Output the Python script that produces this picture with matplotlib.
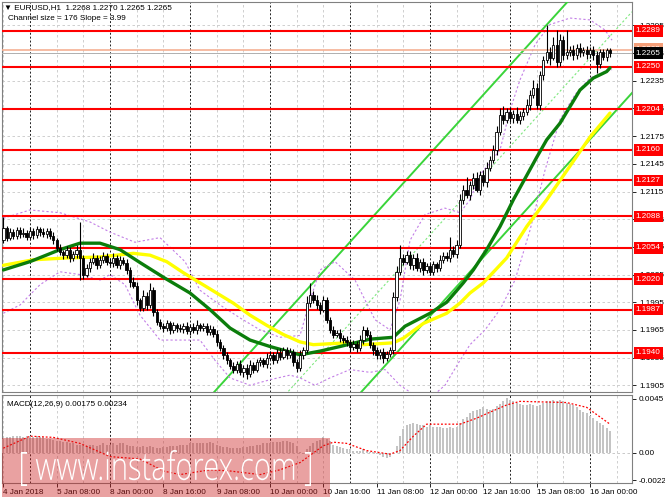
import matplotlib
matplotlib.use("Agg")
import matplotlib.pyplot as plt
from matplotlib.patches import Rectangle, PathPatch
from matplotlib.transforms import blended_transform_factory, Affine2D, IdentityTransform
from matplotlib.textpath import TextPath
from matplotlib.font_manager import FontProperties

plt.rcParams['font.family'] = ['Liberation Sans', 'DejaVu Sans']

# ---------------- data ----------------
open_first = 1.2062
closes = [
    1.2075, 1.2065, 1.2071, 1.2067, 1.2073, 1.2069, 1.2070, 1.2066, 1.2072, 1.2068,
    1.2074, 1.2071, 1.2069, 1.2072, 1.2067, 1.2062, 1.2054, 1.2049, 1.2046, 1.2052,
    1.2043, 1.2047, 1.2052, 1.2043, 1.2025, 1.2032, 1.2039, 1.2043, 1.2035, 1.2041,
    1.2045, 1.2039, 1.2037, 1.2043, 1.2035, 1.2041, 1.2038, 1.2030, 1.2017, 1.2013,
    1.1997, 1.1989, 1.2002, 1.1992, 1.2008, 1.1984, 1.1974, 1.1969, 1.1967, 1.1972,
    1.1965, 1.1970, 1.1967, 1.1966, 1.1969, 1.1964, 1.1968, 1.1965, 1.1970, 1.1967,
    1.1969, 1.1963, 1.1966, 1.1961, 1.1952, 1.1945, 1.1938, 1.1932, 1.1926, 1.1922,
    1.1928, 1.1919, 1.1924, 1.1917, 1.1927, 1.1922, 1.1930, 1.1932, 1.1928, 1.1935,
    1.1938, 1.1932, 1.1940, 1.1936, 1.1943, 1.1938, 1.1941, 1.1930, 1.1924, 1.1938,
    1.1943, 1.1994, 1.2003, 1.1997, 1.1992, 1.1987, 1.1997, 1.1976, 1.1965, 1.1960,
    1.1962, 1.1956, 1.1954, 1.1952, 1.1946, 1.1950, 1.1945, 1.1954, 1.1965, 1.1960,
    1.1949, 1.1943, 1.1938, 1.1941, 1.1935, 1.1939, 1.1943, 1.2001, 1.2028, 1.2043,
    1.2039, 1.2046, 1.2035, 1.2043, 1.2032, 1.2039, 1.2030, 1.2034, 1.2028, 1.2036,
    1.2032, 1.2041, 1.2045, 1.2043, 1.2052, 1.2047, 1.2057, 1.2106, 1.2117, 1.2111,
    1.2122, 1.2130, 1.2117, 1.2133, 1.2125, 1.2141, 1.2149, 1.2160, 1.2180, 1.2198,
    1.2193, 1.2201, 1.2195, 1.2199, 1.2193, 1.2197, 1.2201, 1.2209, 1.2220, 1.2227,
    1.2209, 1.2241, 1.2258, 1.2266, 1.2260, 1.2274, 1.2255, 1.2279, 1.2263, 1.2266,
    1.2268, 1.2263, 1.2271, 1.2266, 1.2268, 1.2264, 1.2268, 1.2263, 1.2253, 1.2266,
    1.2261, 1.2268, 1.2265]
up_wick_pips = [
    12, 3, 4, 3, 4, 3, 5, 3, 4, 3,
    4, 3, 4, 3, 3, 4, 3, 4, 3, 4,
    3, 4, 5, 30, 3, 4, 4, 5, 3, 4,
    4, 3, 4, 5, 3, 4, 3, 4, 3, 5,
    4, 3, 6, 4, 8, 3, 4, 3, 4, 4,
    3, 4, 3, 4, 3, 5, 3, 4, 6, 3,
    4, 3, 4, 3, 4, 3, 4, 3, 3, 4,
    3, 4, 3, 4, 5, 3, 4, 4, 3, 5,
    4, 3, 4, 5, 4, 3, 4, 3, 4, 5,
    3, 8, 13, 4, 6, 3, 5, 4, 3, 4,
    3, 4, 3, 4, 3, 4, 3, 5, 4, 3,
    4, 3, 4, 3, 4, 3, 4, 5, 6, 14,
    4, 5, 4, 4, 5, 3, 4, 3, 4, 4,
    3, 5, 4, 4, 14, 4, 5, 6, 5, 14,
    4, 5, 6, 4, 5, 6, 4, 5, 6, 8,
    10, 5, 6, 4, 8, 5, 4, 6, 5, 9,
    6, 5, 4, 30, 6, 8, 16, 7, 5, 24,
    5, 6, 4, 5, 4, 5, 4, 5, 4, 3,
    4, 3, 3]
dn_wick_pips = [
    3, 4, 3, 4, 3, 4, 3, 4, 3, 4,
    3, 4, 3, 4, 3, 4, 4, 3, 4, 3,
    4, 3, 4, 24, 5, 3, 4, 3, 4, 3,
    3, 4, 3, 4, 3, 4, 3, 4, 5, 3,
    5, 4, 3, 5, 3, 4, 4, 3, 4, 3,
    4, 3, 4, 3, 4, 3, 4, 3, 4, 3,
    3, 4, 3, 4, 4, 3, 5, 4, 3, 4,
    4, 3, 5, 5, 3, 4, 3, 4, 3, 4,
    3, 4, 3, 4, 3, 4, 3, 4, 5, 4,
    4, 3, 4, 3, 4, 5, 3, 4, 3, 4,
    3, 4, 3, 4, 5, 3, 4, 3, 4, 3,
    4, 5, 4, 5, 6, 4, 3, 4, 5, 4,
    4, 3, 4, 5, 3, 4, 5, 3, 4, 3,
    4, 3, 4, 3, 4, 3, 4, 3, 4, 3,
    5, 4, 3, 6, 4, 5, 4, 3, 5, 4,
    5, 4, 5, 6, 4, 5, 4, 3, 6, 4,
    5, 6, 5, 4, 8, 3, 5, 4, 6, 4,
    4, 5, 4, 5, 4, 5, 4, 6, 10, 4,
    4, 5, 4]

ma_green_bars = [0, 8, 17, 23, 29, 35, 41, 48.5, 56, 62, 68, 74, 80, 86, 89, 95, 101, 110,
                 117, 120.5, 128, 133, 138, 141, 145, 149, 153, 160, 163, 167, 170, 173, 177, 181, 182]
ma_green_vals = [1.2030, 1.2039, 1.2052, 1.2059, 1.2059, 1.2052, 1.2038, 1.2021, 1.2005, 1.1987,
                 1.1967, 1.1954, 1.1947, 1.1941, 1.1938, 1.1942, 1.1947, 1.1955, 1.1957, 1.1969,
                 1.1983, 1.1995, 1.2016, 1.2030, 1.2052, 1.2077, 1.2106, 1.2152, 1.2171, 1.2189,
                 1.2207, 1.2225, 1.2238, 1.2245, 1.2249]
ma_yellow_bars = [0, 9, 19, 29, 34, 39, 44, 49, 54, 59, 64, 69, 74, 79, 84, 89, 93, 103, 108,
                  117, 120, 126, 133, 137, 140, 144, 151, 157, 163, 176, 182]
ma_yellow_vals = [1.2035, 1.2041, 1.2043, 1.2044, 1.2046, 1.2048, 1.2046, 1.2039, 1.2027, 1.2016,
                  1.2005, 1.1994, 1.1981, 1.1970, 1.1960, 1.1952, 1.1949, 1.1951, 1.1949, 1.1951,
                  1.1956, 1.1972, 1.1983, 1.1994, 1.2005, 1.2016, 1.2043, 1.2077, 1.2106, 1.2174,
                  1.2200]
bb_upper_bars = [0, 8, 17, 26, 32, 39.5, 47, 54.5, 59, 65, 71, 77, 83, 89, 92, 95, 99.5, 105.5,
                 111.5, 116, 119, 122, 126.5, 132.5, 137, 140, 143, 149, 152, 155, 159.5, 164,
                 170, 176, 180.5, 182.6]
bb_upper_vals = [1.2086, 1.2095, 1.2092, 1.2082, 1.2071, 1.2060, 1.2065, 1.2039, 1.2008, 1.1992,
                 1.1978, 1.1965, 1.1957, 1.1959, 1.1997, 1.2030, 1.2039, 1.2019, 1.1976, 1.1965,
                 1.1997, 1.2062, 1.2090, 1.2097, 1.2092, 1.2106, 1.2133, 1.2160, 1.2203, 1.2236,
                 1.2274, 1.2296, 1.2303, 1.2301, 1.2290, 1.2279]
bb_lower_bars = [0, 5, 11, 17, 23, 29, 32, 36.5, 41, 47, 53, 59, 63.5, 68, 74, 80, 86, 89,
                 93.5, 98, 104, 110, 114.5, 119, 123.5, 128, 132.5, 137, 140, 144.5, 149, 153.5,
                 158, 162.5, 167, 171.5, 176, 180.5, 182.6]
bb_lower_vals = [1.1983, 1.1992, 1.2014, 1.2028, 1.2025, 1.2019, 1.2025, 1.2014, 1.1981, 1.1954,
                 1.1954, 1.1954, 1.1932, 1.1913, 1.1905, 1.1911, 1.1916, 1.1913, 1.1905, 1.1913,
                 1.1922, 1.1919, 1.1922, 1.1905, 1.1894, 1.1891, 1.1905, 1.1932, 1.1949, 1.1965,
                 1.1987, 1.2019, 1.2073, 1.2138, 1.2193, 1.2220, 1.2238, 1.2245, 1.2247]

channel_anchor_bar = 169.1
channel_anchor_price = 1.2320
channel_slope = 0.000399      # price per bar
channel_width = 0.0176

levels = [1.2289, 1.2250, 1.2204, 1.2160, 1.2127, 1.2088, 1.2054, 1.2020, 1.1987, 1.1940]
price_ticks = [1.1905, 1.1935, 1.1965, 1.1995, 1.2025, 1.2055, 1.2085, 1.2115,
               1.2145, 1.2175, 1.2205, 1.2235, 1.2265, 1.2295]
bid_price = 1.2265
ask_price = 1.2268

macd_hist = [
    0.0012, 0.0013, 0.0013, 0.0014, 0.0014, 0.0014, 0.0013, 0.0014, 0.0014, 0.0013,
    0.0014, 0.0013, 0.0013, 0.0012, 0.0012, 0.0011, 0.0010, 0.0010, 0.0009, 0.0009,
    0.0008, 0.0008, 0.0007, 0.0007, 0.0007, 0.0006, 0.0007, 0.0007, 0.0006, 0.0007,
    0.0008, 0.0007, 0.0007, 0.0008, 0.0007, 0.0008, 0.0008, 0.0007, 0.0006, 0.0006,
    0.0005, 0.0005, 0.0006, 0.0005, 0.0006, 0.0005, 0.0004, 0.0004, 0.0005, 0.0005,
    0.0006, 0.0006, 0.0006, 0.0007, 0.0007, 0.0007, 0.0008, 0.0008, 0.0008, 0.0008,
    0.0008, 0.0008, 0.0009, 0.0008, 0.0007, 0.0006, 0.0005, 0.0005, 0.0004, 0.0004,
    0.0004, 0.0004, 0.0005, 0.0005, 0.0006, 0.0006, 0.0007, 0.0007, 0.0008, 0.0008,
    0.0008, 0.0009, 0.0009, 0.0009, 0.0010, 0.0010, 0.0009, 0.0008, 0.0006, 0.0001,
    -0.0001, 0.0003, 0.0006, 0.0008, 0.0010, 0.0011, 0.0013, 0.0012, 0.0010, 0.0007,
    0.0006, 0.0005, 0.0004, 0.0003, 0.0003, 0.0002, 0.0002, 0.0002, 0.0003, 0.0002,
    0.0001, 0.0001, -0.0001, -0.0002, -0.0003, -0.0004, -0.0003, 0.0000, 0.0006, 0.0014,
    0.0020, 0.0023, 0.0024, 0.0025, 0.0024, 0.0023, 0.0023, 0.0022, 0.0023, 0.0022,
    0.0022, 0.0022, 0.0021, 0.0021, 0.0022, 0.0021, 0.0022, 0.0025, 0.0028, 0.0030,
    0.0033, 0.0035, 0.0036, 0.0037, 0.0038, 0.0037, 0.0036, 0.0037, 0.0039, 0.0041,
    0.0043, 0.0046, 0.0044, 0.0043, 0.0042, 0.0041, 0.0040, 0.0040, 0.0041, 0.0040,
    0.0039, 0.0040, 0.0042, 0.0043, 0.0043, 0.0044, 0.0043, 0.0044, 0.0043, 0.0042,
    0.0041, 0.0040, 0.0038, 0.0036, 0.0034, 0.0033, 0.0031, 0.0029, 0.0027, 0.0025,
    0.0023, 0.0021, 0.0018]
signal_bars = [0, 8, 15, 23, 32, 41, 48, 53, 62, 68, 77, 83, 89, 96, 99, 103, 109, 116,
               119, 123, 127, 137, 142, 146, 151, 155, 169, 175, 182]
signal_vals = [0.0004, 0.0014, 0.0013, 0.0008, -0.0003, -0.0005, -0.0015, -0.0018, -0.0014,
               -0.0015, -0.0018, -0.0014, -0.0008, 0.0006, 0.0009, 0.0008, 0.0002, -0.0001,
               0.0002, 0.0014, 0.0024, 0.0024, 0.0029, 0.0034, 0.0040, 0.0043, 0.0042, 0.0038,
               0.0024]

time_label_bars = [0, 16, 32, 48, 64, 80, 96, 112, 128, 144, 160, 176]
time_labels = ["4 Jan 2018", "5 Jan 08:00", "8 Jan 00:00", "8 Jan 16:00", "9 Jan 08:00",
               "10 Jan 00:00", "10 Jan 16:00", "11 Jan 08:00", "12 Jan 00:00", "12 Jan 16:00",
               "15 Jan 08:00", "16 Jan 00:00"]
separator_bars = [8, 32, 56, 80, 104, 128, 152, 176]
grid_bars = [0, 16, 24, 40, 48, 64, 72, 88, 96, 112, 120, 136, 144, 160, 168, 184]

# ---------------- figure ----------------
W, H = 665, 499
fig = plt.figure(figsize=(W / 100, H / 100), dpi=100)
fig.patch.set_facecolor('white')
ax = fig.add_axes([2 / W, 1 - 392 / H, 630 / W, 390 / H])
axm = fig.add_axes([2 / W, 1 - 483 / H, 630 / W, 88 / H])

XMIN, XMAX = -0.4, 188.6
FS = 5.9

for a in (ax, axm):
    a.set_xlim(XMIN, XMAX)
    for s in a.spines.values():
        s.set_color('#808080')
        s.set_linewidth(0.8)
    for b in grid_bars:
        a.axvline(b, color='#c8c8c8', lw=0.6, dashes=(3, 3), zorder=1)
    for b in separator_bars:
        a.axvline(b, color='#202020', lw=0.7, dashes=(2, 2), zorder=1)

ax.set_ylim(1.18977, 1.23204)
for p in price_ticks:
    ax.axhline(p, color='#c8c8c8', lw=0.6, dashes=(3, 3), zorder=1)

# regression channel
cx = [50, XMAX]
up_line = [channel_anchor_price + channel_slope * (b - channel_anchor_bar) for b in cx]
ax.plot(cx, up_line, color='#3ad43a', lw=1.4, zorder=3)
ax.plot(cx, [u - channel_width for u in up_line], color='#3ad43a', lw=1.4, zorder=3)
ax.plot(cx, [u - channel_width / 2 for u in up_line], color='#7ee87e', lw=0.8,
        dashes=(2, 2), zorder=3)

# bollinger-like bands
ax.plot(bb_upper_bars, bb_upper_vals, color='#c27ee6', lw=0.8, dashes=(2, 2), zorder=3)
ax.plot(bb_lower_bars, bb_lower_vals, color='#c27ee6', lw=0.8, dashes=(2, 2), zorder=3)

# moving averages
ax.plot(ma_yellow_bars, ma_yellow_vals, color='#ffff00', lw=2.4, zorder=4,
        solid_capstyle='round', solid_joinstyle='round')
ax.plot(ma_green_bars, ma_green_vals, color='#0b7d0b', lw=2.4, zorder=4,
        solid_capstyle='round', solid_joinstyle='round')

# horizontal levels
for lv in levels:
    ax.axhline(lv, color='#ff0000', lw=1.5, zorder=3.5)
ax.axhline(ask_price, color='#f5b093', lw=1.2, zorder=3.4)
ax.axhline(bid_price, color='#b0b0b0', lw=0.7, zorder=3.4)

# candles
n = len(closes)
opens = [open_first] + closes[:-1]
for i in range(n):
    o, c = opens[i], closes[i]
    hi = max(o, c) + up_wick_pips[i] * 1e-4
    lo = min(o, c) - dn_wick_pips[i] * 1e-4
    ax.vlines(i, lo, hi, color='black', lw=0.8, zorder=5)
    h = abs(c - o)
    if h < 0.00003:
        ax.hlines(c, i - 0.35, i + 0.35, color='black', lw=0.9, zorder=6)
    else:
        ax.add_patch(Rectangle((i - 0.35, min(o, c)), 0.7, h,
                               fc='white' if c > o else 'black', ec='black',
                               lw=0.6, zorder=6))

# right axis
ax.yaxis.tick_right()
ax.set_yticks(price_ticks)
ax.set_yticklabels([f"{p:.4f}" for p in price_ticks])
ax.tick_params(axis='y', length=3, width=0.6, pad=2, labelsize=FS, colors='black')
ax.tick_params(axis='x', bottom=False, labelbottom=False)

tr = blended_transform_factory(ax.transAxes, ax.transData)
LX = 1.0062
ax.text(LX, ask_price + 0.00012, f"{ask_price:.4f}", transform=tr, ha='left', va='center',
        fontsize=FS, color='white', clip_on=False, zorder=20,
        bbox=dict(boxstyle='square,pad=0.28', fc='#f5a07a', ec='none'))
ax.text(LX, bid_price, f"{bid_price:.4f}", transform=tr, ha='left', va='center',
        fontsize=FS, color='white', clip_on=False, zorder=21,
        bbox=dict(boxstyle='square,pad=0.28', fc='black', ec='none'))
for lv in levels:
    ax.text(LX, lv, f"{lv:.4f}", transform=tr, ha='left', va='center', fontsize=FS,
            color='white', clip_on=False, zorder=22,
            bbox=dict(boxstyle='square,pad=0.28', fc='#ff0000', ec='none'))

# MACD panel
axm.set_ylim(-0.0025, 0.00483)
axm.axhline(0, color='#c0c0c0', lw=0.6, dashes=(3, 3), zorder=1)
axm.bar(range(n), macd_hist, width=0.62, color='#c4c4c4', zorder=3)
axm.plot(signal_bars, signal_vals, color='#ff0000', lw=0.9, dashes=(1.5, 1.5), zorder=4)
axm.yaxis.tick_right()
axm.set_yticks([0.0045, 0.0, -0.00227])
axm.set_yticklabels(["0.0045", "0.00", "-0.00227"])
axm.tick_params(axis='y', length=3, width=0.6, pad=2, labelsize=FS)
axm.set_xticks(time_label_bars)
axm.set_xticklabels(time_labels)
axm.tick_params(axis='x', length=3, width=0.6, pad=1.5, labelsize=FS)
for lbl in axm.get_xticklabels():
    lbl.set_horizontalalignment('left')
axm.text(0.008, 0.93, "MACD(12,26,9) 0.00175 0.00234", transform=axm.transAxes,
         fontsize=FS, va='top', ha='left', zorder=10)

# header texts
fig.text(4 / W, 1 - 8 / H, "\u25bc EURUSD,H1  1.2268 1.2270 1.2265 1.2265", fontsize=FS,
         va='center', ha='left')
fig.text(8 / W, 1 - 19 / H, "Channel size = 176 Slope = 3.99", fontsize=FS,
         va='center', ha='left')

# watermark
fig.patches.append(Rectangle((2 / W, 1 - 497 / H), 328 / W, 59 / H, transform=fig.transFigure,
                             fc=(0.80, 0.12, 0.12), alpha=0.42, ec='none', zorder=10))
tp = TextPath((0, 0), "[ www.instaforex.com ]", size=20,
              prop=FontProperties(family=['Open Sans', 'DejaVu Sans'], weight='light'))
ext = tp.get_extents()
tx0, tx1 = 21, 311          # target span, pixels from left
ty_top, ty_bot = 450, 486   # target span, pixels from top
sx = (tx1 - tx0) / ext.width
sy = (ty_bot - ty_top) / ext.height
wm_tr = Affine2D().translate(-ext.x0, -ext.y0).scale(sx, sy).translate(tx0, H - ty_bot)
wm = PathPatch(tp, transform=wm_tr + IdentityTransform(), fc='white', ec='none', zorder=11)
fig.patches.append(wm)

fig.savefig("out.png", dpi=100)
